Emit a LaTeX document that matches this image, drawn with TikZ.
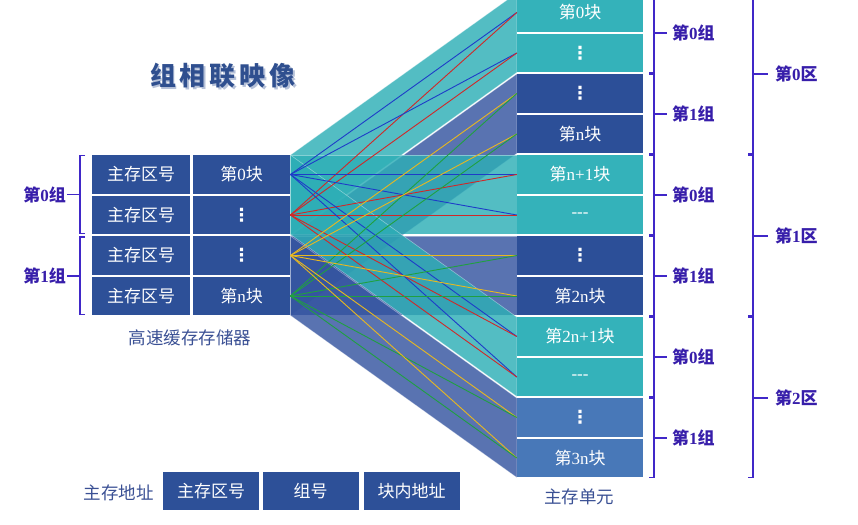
\documentclass[tikz,border=0pt]{standalone}
\usepackage{fontspec}
\setmainfont{Liberation Serif}
\newfontfamily\cjk{Noto Sans CJK SC}
\newfontfamily\lat{Liberation Serif}
\newfontfamily\dejavu{DejaVu Sans}
\newcommand\dg[1]{{\lat #1}}
\newcommand\vd{{\dejavu\bfseries\fontsize{18}{18}\selectfont ⋮}}
\usetikzlibrary{backgrounds}
\definecolor{cacheblue}{RGB}{45,80,152}
\definecolor{mteal}{RGB}{52,178,186}
\definecolor{mblue}{RGB}{44,79,152}
\definecolor{mlight}{RGB}{72,120,184}
\definecolor{bandteal}{RGB}{45,174,182}
\definecolor{bandblue}{RGB}{52,84,160}
\definecolor{brkcol}{RGB}{64,40,200}
\definecolor{labcol}{RGB}{55,30,170}
\definecolor{txtblue}{RGB}{58,80,148}
\definecolor{titleblue}{RGB}{47,79,143}
\definecolor{lblue}{RGB}{30,60,200}
\definecolor{lred}{RGB}{208,40,40}
\definecolor{lyellow}{RGB}{232,184,32}
\definecolor{lgreen}{RGB}{32,160,64}
\begin{document}
\begin{tikzpicture}[x=1pt,y=-1pt,
  cell/.style={rectangle, inner sep=0pt, text=white, minimum height=38.5pt,
    font=\cjk\fontsize{17}{19}\selectfont},
  cachecell/.style={cell, fill=cacheblue, minimum width=97.5pt},
  mainrow/.style={cell, minimum width=126pt},
  addrcell/.style={cell, fill=cacheblue, minimum width=96pt, minimum height=38pt},
  band/.style={fill opacity=0.82, draw=white, draw opacity=0.4, line width=0.6pt},
  conn/.style={line width=0.9pt},
  brk/.style={draw=brkcol, line width=1.8pt},
  grplab/.style={text=labcol, inner sep=1pt, font=\cjk\bfseries\fontsize{17}{19}\selectfont},
  caption/.style={text=txtblue, inner sep=0pt, font=\cjk\fontsize{17.5}{19}\selectfont}
]
\useasboundingbox (0,0) rectangle (858,524);

% title with shadow
\node[text=titleblue!35, font=\cjk\bfseries\fontsize{26}{28}\selectfont] (titleshadow) at (224.5,77.5) {组\hspace{4pt}相\hspace{4pt}联\hspace{4pt}映\hspace{4pt}像};
\node[text=titleblue, font=\cjk\bfseries\fontsize{26}{28}\selectfont] (title) at (223,76) {组\hspace{4pt}相\hspace{4pt}联\hspace{4pt}映\hspace{4pt}像};

% cache
\node[cachecell] (r0) at (141,174.5) {主存区号};
\node[cachecell] (r1) at (141,215) {主存区号};
\node[cachecell] (r2) at (141,255.5) {主存区号};
\node[cachecell] (r3) at (141,296) {主存区号};
\node[cachecell] (k0) at (241.5,174.5) {第\dg{0}块};
\node[cachecell] (k1) at (241.5,215) {\vd};
\node[cachecell] (k2) at (241.5,255.5) {\vd};
\node[cachecell] (k3) at (241.5,296) {第\dg{n}块};
\node[caption] (cachecap) at (190,338) {高速缓存存储器};

% main memory
\node[mainrow, fill=mteal] (m0) at (580,12.5) {第\dg{0}块};
\node[mainrow, fill=mteal] (m1) at (580,53) {\vd};
\node[mainrow, fill=mblue] (m2) at (580,93.5) {\vd};
\node[mainrow, fill=mblue] (m3) at (580,134) {第\dg{n}块};
\node[mainrow, fill=mteal] (m4) at (580,174.5) {第\dg{n+1}块};
\node[mainrow, fill=mteal] (m5) at (580,215) {\dg{-{}-{}-}};
\node[mainrow, fill=mblue] (m6) at (580,255.5) {\vd};
\node[mainrow, fill=mblue] (m7) at (580,296) {第\dg{2n}块};
\node[mainrow, fill=mteal] (m8) at (580,336.5) {第\dg{2n+1}块};
\node[mainrow, fill=mteal] (m9) at (580,377) {\dg{-{}-{}-}};
\node[mainrow, fill=mlight] (m10) at (580,417.5) {\vd};
\node[mainrow, fill=mlight] (m11) at (580,458) {第\dg{3n}块};
\node[caption] (maincap) at (579,497) {主存单元};

% bands
\begin{pgfonlayer}{background}
\fill[band, fill=bandteal] (k0.north east) -- (m0.north west) -- (m1.south west) -- (k1.south east) -- cycle;
\fill[band, fill=bandblue] (k2.north east) -- (m2.north west) -- (m3.south west) -- (k3.south east) -- cycle;
\fill[band, fill=bandteal] (k0.north east) -- (m4.north west) -- (m5.south west) -- (k1.south east) -- cycle;
\fill[band, fill=bandblue] (k2.north east) -- (m6.north west) -- (m7.south west) -- (k3.south east) -- cycle;
\fill[band, fill=bandteal] (k0.north east) -- (m8.north west) -- (m9.south west) -- (k1.south east) -- cycle;
\fill[band, fill=bandblue] (k2.north east) -- (m10.north west) -- (m11.south west) -- (k3.south east) -- cycle;
\end{pgfonlayer}

% connectors
\foreach \t in {0,1,4,5,8,9} {
  \draw[conn, lblue] (k0.east) -- (m\t.west);
  \draw[conn, lred] (k1.east) -- (m\t.west);
}
\foreach \t in {2,3,6,7,10,11} {
  \draw[conn, lyellow] (k2.east) -- (m\t.west);
  \draw[conn, lgreen] (k3.east) -- (m\t.west);
}

% left brackets
\draw[brk] (85,155.5) -- (80,155.5) -- (80,233.5) -- (85,233.5);
\draw[brk] (80,194.5) -- (67,194.5);
\node[grplab, anchor=east] (lg0) at (67,194.5) {第\dg{\bfseries 0}组};
\draw[brk] (85,237) -- (80,237) -- (80,314.5) -- (85,314.5);
\draw[brk] (80,276) -- (67,276);
\node[grplab, anchor=east] (lg1) at (67,276) {第\dg{\bfseries 1}组};

% right inner brackets
\foreach \tp/\bt/\md/\g [count=\i] in {-7/73/33/0, 74/153.5/114/1, 155/234.5/195/0, 236/315.5/276/1, 317/396.5/357/0, 398/477.5/438/1} {
  \draw[brk] (649,\tp) -- (654,\tp) -- (654,\bt) -- (649,\bt);
  \draw[brk] (654,\md) -- (667,\md);
  \node[grplab, anchor=west] (rg\i) at (671,\md) {第\dg{\bfseries \g}组};
}
% right outer brackets
\foreach \tp/\bt/\md/\g [count=\i] in {-7/153.5/74/0, 155/315.5/236/1, 317/477.5/398/2} {
  \draw[brk] (748,\tp) -- (753,\tp) -- (753,\bt) -- (748,\bt);
  \draw[brk] (753,\md) -- (768,\md);
  \node[grplab, anchor=west] (zone\i) at (774,\md) {第\dg{\bfseries \g}区};
}

% address
\node[caption, anchor=east] (addrlab) at (154,493) {主存地址};
\node[addrcell] (a0) at (211,491) {主存区号};
\node[addrcell] (a1) at (310.5,491) {组号};
\node[addrcell] (a2) at (411.5,491) {块内地址};
\end{tikzpicture}
\end{document}
